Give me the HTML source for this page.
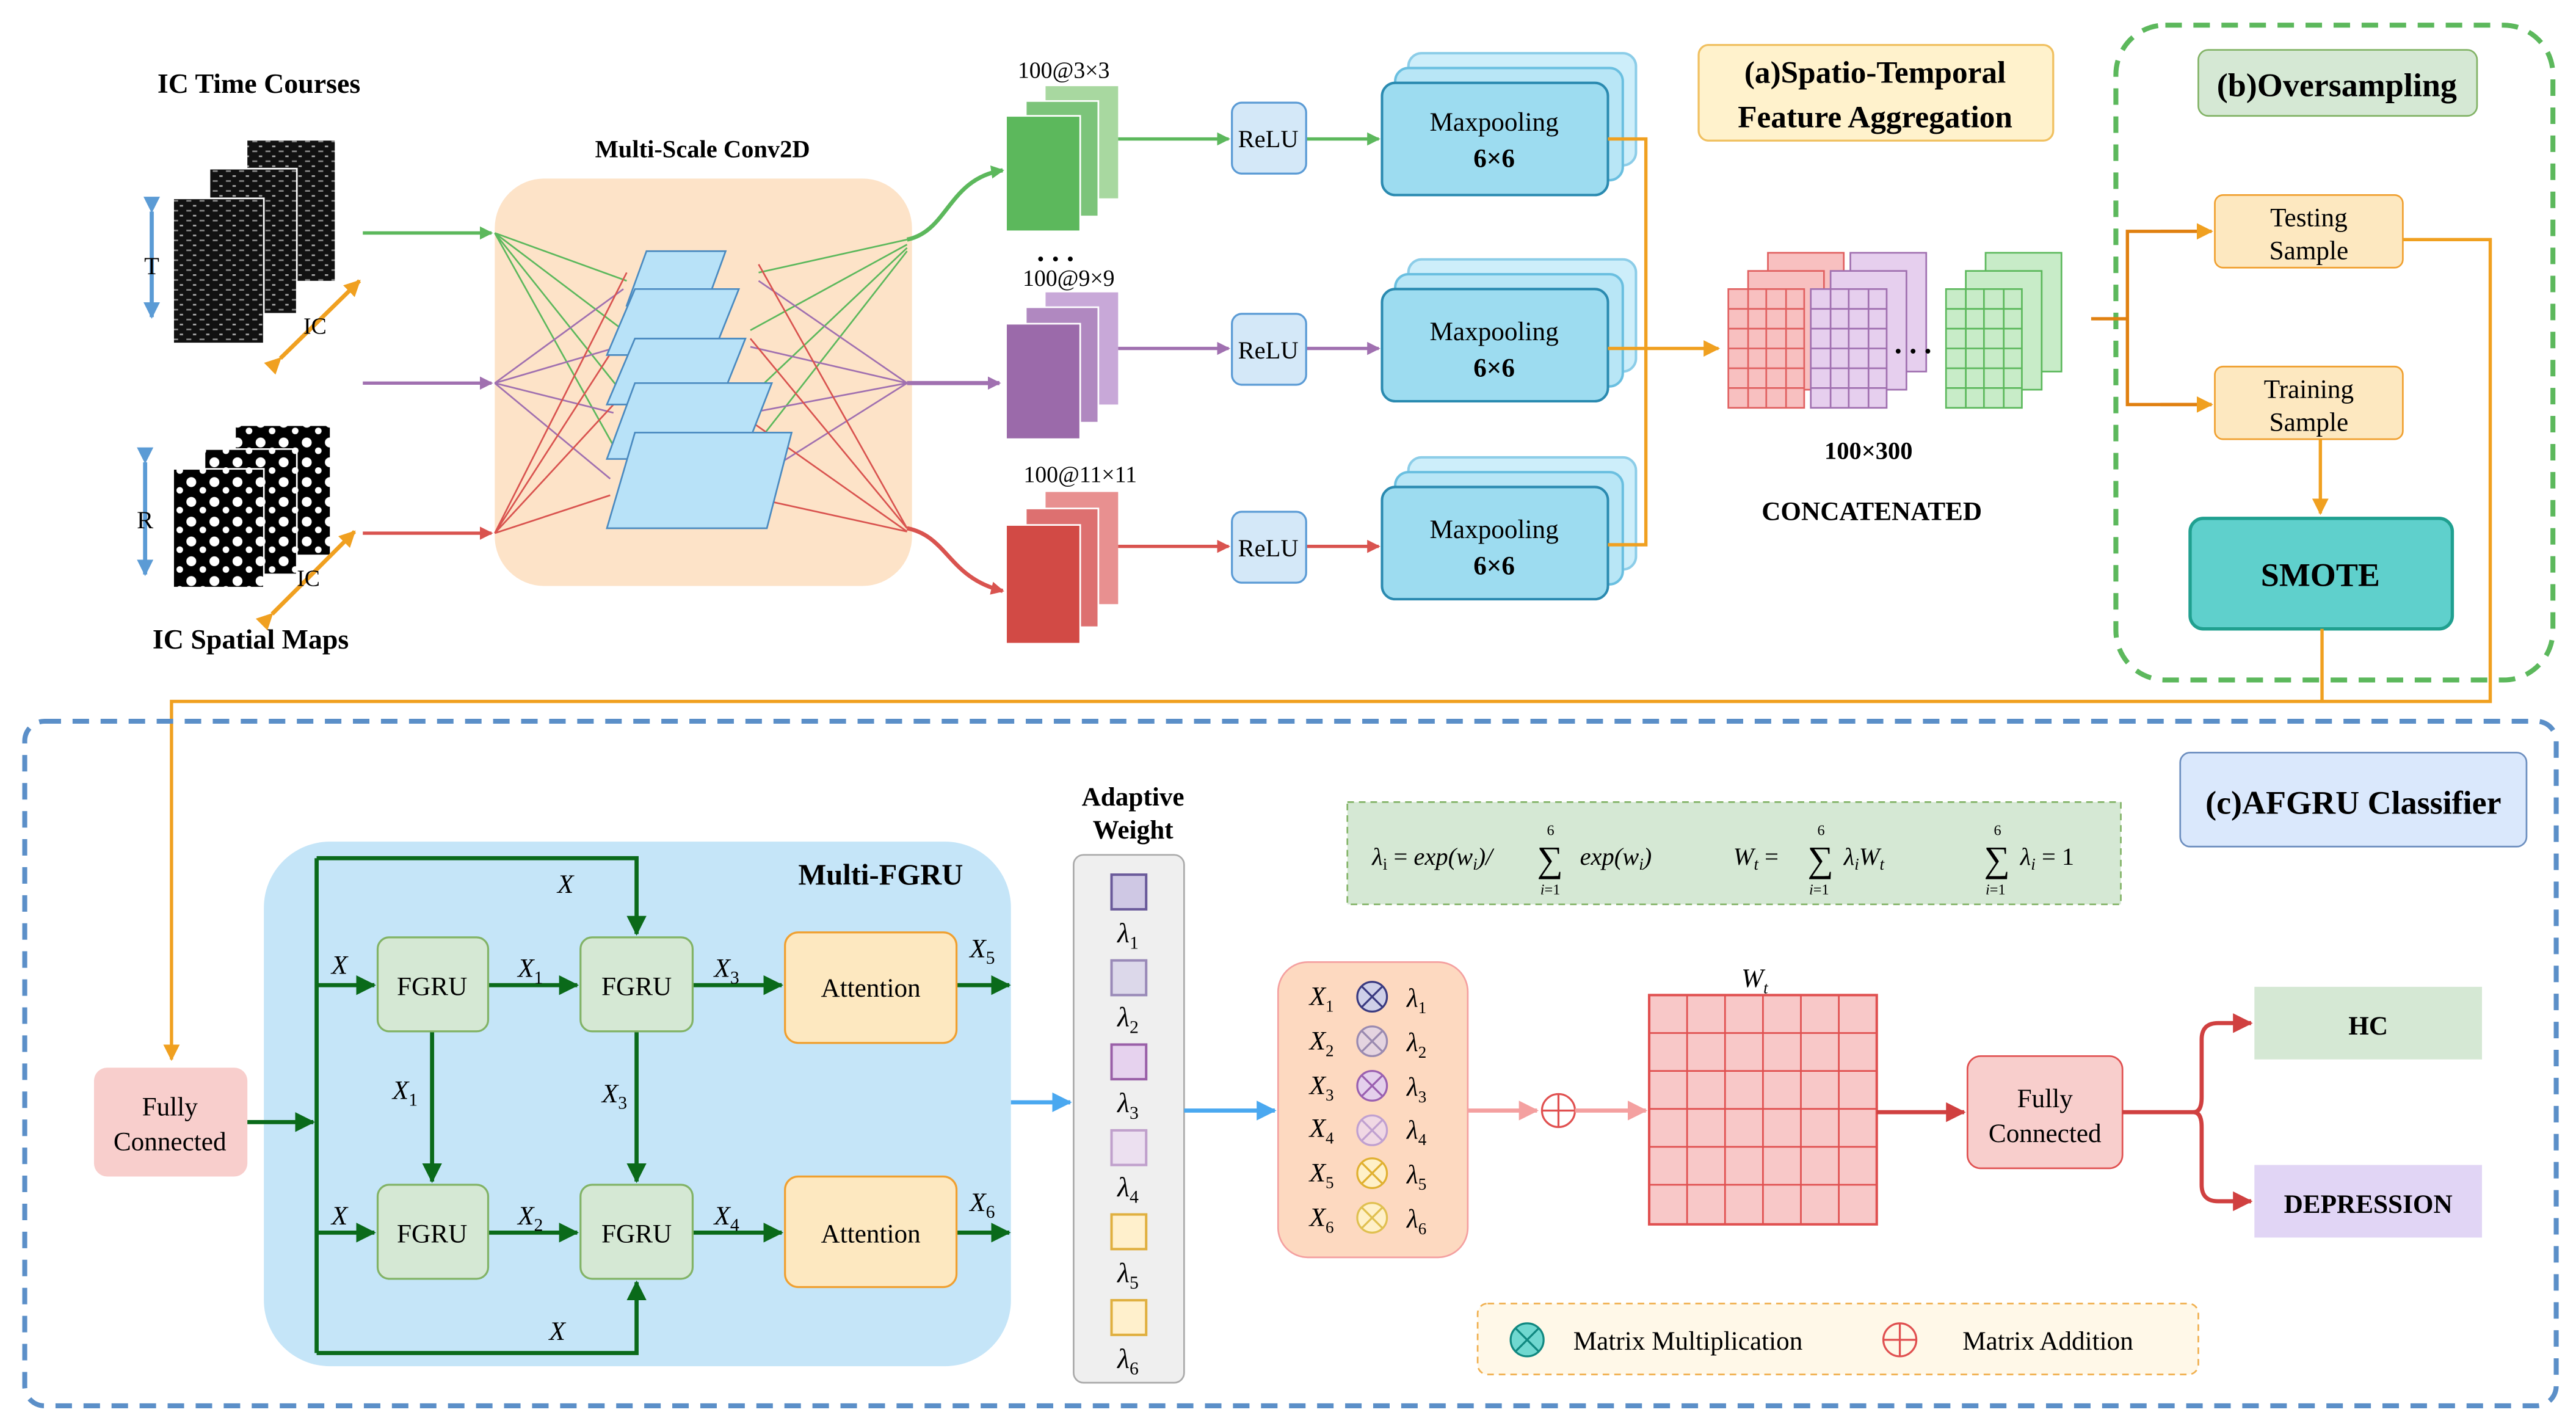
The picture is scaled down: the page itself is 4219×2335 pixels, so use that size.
<!DOCTYPE html>
<html><head><meta charset="utf-8"><style>
html,body{margin:0;padding:0;background:#fff;}
svg{display:block;font-family:"Liberation Serif",serif;}
svg text{font-family:"Liberation Serif",serif;}
</style></head><body>
<svg width="4219" height="2335" viewBox="0 0 1562 864" xmlns="http://www.w3.org/2000/svg" font-family="Liberation Serif, serif">
<defs>
<marker id="ag" markerWidth="8" markerHeight="8" refX="7" refY="4" orient="auto" markerUnits="userSpaceOnUse"><path d="M0,0 L8,4 L0,8z" fill="#5cb85c"/></marker>
<marker id="ap" markerWidth="8" markerHeight="8" refX="7" refY="4" orient="auto" markerUnits="userSpaceOnUse"><path d="M0,0 L8,4 L0,8z" fill="#a070b0"/></marker>
<marker id="ar" markerWidth="8" markerHeight="8" refX="7" refY="4" orient="auto" markerUnits="userSpaceOnUse"><path d="M0,0 L8,4 L0,8z" fill="#d9534f"/></marker>
<marker id="ao" markerWidth="10" markerHeight="10" refX="9" refY="5" orient="auto" markerUnits="userSpaceOnUse"><path d="M0,0 L10,5 L0,10z" fill="#f0a020"/></marker>
<marker id="ab" markerWidth="10" markerHeight="10" refX="9" refY="5" orient="auto" markerUnits="userSpaceOnUse"><path d="M0,0 L10,5 L0,10z" fill="#5b9bd5"/></marker>
<marker id="alb" markerWidth="12" markerHeight="12" refX="11" refY="6" orient="auto" markerUnits="userSpaceOnUse"><path d="M0,0 L12,6 L0,12z" fill="#4aa8f0"/></marker>
<marker id="adg" markerWidth="12" markerHeight="12" refX="11" refY="6" orient="auto" markerUnits="userSpaceOnUse"><path d="M0,0 L12,6 L0,12z" fill="#0a6a1a"/></marker>
<marker id="apk" markerWidth="12" markerHeight="12" refX="11" refY="6" orient="auto" markerUnits="userSpaceOnUse"><path d="M0,0 L12,6 L0,12z" fill="#f4a0a0"/></marker>
<marker id="ard" markerWidth="12" markerHeight="12" refX="11" refY="6" orient="auto" markerUnits="userSpaceOnUse"><path d="M0,0 L12,6 L0,12z" fill="#d04040"/></marker>
<pattern id="noise" width="8" height="6" patternUnits="userSpaceOnUse"><rect width="8" height="6" fill="#111"/><rect x="1" y="1" width="3" height="1" fill="#888"/><rect x="5" y="4" width="2" height="1" fill="#aaa"/></pattern>
<pattern id="blob" width="14" height="12" patternUnits="userSpaceOnUse"><rect width="14" height="12" fill="#000"/><circle cx="4" cy="4" r="3" fill="#fff"/><circle cx="11" cy="9" r="2" fill="#fff"/></pattern>
</defs>

<text x="157" y="56" font-size="17" font-weight="bold" text-anchor="middle">IC Time Courses</text>
<rect x="150" y="85" width="53" height="85" fill="url(#noise)"/>
<rect x="127" y="102" width="53" height="88" fill="url(#noise)" stroke="#fff"/>
<rect x="105" y="120" width="55" height="88" fill="url(#noise)" stroke="#fff"/>
<line x1="92" y1="128" x2="92" y2="192" stroke="#5b9bd5" stroke-width="2.5" marker-start="url(#ab)" marker-end="url(#ab)"/>
<text x="92" y="166" font-size="15" text-anchor="middle">T</text>
<line x1="170" y1="217" x2="218" y2="170" stroke="#f0a020" stroke-width="2.5" marker-start="url(#ao)" marker-end="url(#ao)"/>
<text x="191" y="202" font-size="14" text-anchor="middle">IC</text>
<rect x="143" y="258" width="57" height="78" fill="url(#blob)"/>
<rect x="124" y="272" width="56" height="76" fill="url(#blob)" stroke="#fff"/>
<rect x="105" y="284" width="55" height="72" fill="url(#blob)" stroke="#fff"/>
<line x1="88" y1="280" x2="88" y2="348" stroke="#5b9bd5" stroke-width="2.5" marker-start="url(#ab)" marker-end="url(#ab)"/>
<text x="88" y="320" font-size="15" text-anchor="middle">R</text>
<line x1="165" y1="372" x2="215" y2="322" stroke="#f0a020" stroke-width="2.5" marker-start="url(#ao)" marker-end="url(#ao)"/>
<text x="187" y="355" font-size="14" text-anchor="middle">IC</text>
<text x="152" y="393" font-size="17" font-weight="bold" text-anchor="middle">IC Spatial Maps</text>

<text x="426" y="95" font-size="15" font-weight="bold" text-anchor="middle">Multi-Scale Conv2D</text>
<rect x="300" y="108" width="253" height="247" rx="30" fill="#fde3c8"/>
<line x1="220" y1="141" x2="298" y2="141" stroke="#5cb85c" stroke-width="2" marker-end="url(#ag)"/>
<line x1="220" y1="232" x2="298" y2="232" stroke="#a070b0" stroke-width="2" marker-end="url(#ap)"/>
<line x1="220" y1="323" x2="298" y2="323" stroke="#d9534f" stroke-width="2" marker-end="url(#ar)"/>
<g stroke-width="1">
<g stroke="#5cb85c"><path d="M300 141 L380 170 M300 141 L378 200 M300 141 L375 235 M300 141 L372 270 M460 165 L550 145 M455 200 L550 148 M455 240 L550 150 M450 280 L550 152"/></g>
<g stroke="#a070b0"><path d="M300 232 L378 175 M300 232 L375 210 M300 232 L372 250 M300 232 L370 290 M460 170 L550 232 M455 210 L550 232 M455 250 L550 232 M450 295 L550 232"/></g>
<g stroke="#d9534f"><path d="M300 323 L380 165 M300 323 L376 205 M300 323 L372 245 M300 323 L370 300 M460 160 L550 320 M455 205 L550 320 M455 255 L550 322 M450 300 L550 322"/></g>
</g>
<g fill="#b8e2f8" stroke="#4a8ac0" stroke-width="1">
<polygon points="392,152 440,152 428,185 380,185"/>
<polygon points="385,175 448,175 432,215 368,215"/>
<polygon points="385,205 452,205 436,245 368,245"/>
<polygon points="385,232 468,232 450,278 368,278"/>
<polygon points="385,262 480,262 465,320 368,320"/>
</g>
<path d="M550 145 C575 140 575 108 608 103" stroke="#5cb85c" stroke-width="2.5" fill="none" marker-end="url(#ag)"/>
<line x1="550" y1="232" x2="606" y2="232" stroke="#a070b0" stroke-width="2.5" marker-end="url(#ap)"/>
<path d="M550 320 C575 325 575 350 608 358" stroke="#d9534f" stroke-width="2.5" fill="none" marker-end="url(#ar)"/>

<text x="645" y="47" font-size="14" text-anchor="middle">100@3×3</text>
<rect x="634" y="52" width="44" height="68" fill="#a8d8a0"/><rect x="622" y="61" width="44" height="70" fill="#7cc47a" stroke="#fff"/><rect x="610" y="70" width="45" height="70" fill="#5cb85c" stroke="#fff"/>
<text x="640" y="158" font-size="18" font-weight="bold" text-anchor="middle">. . .</text>
<text x="648" y="173" font-size="14" text-anchor="middle">100@9×9</text>
<rect x="634" y="177" width="44" height="68" fill="#c8a8d8"/><rect x="622" y="186" width="44" height="70" fill="#b088c0" stroke="#fff"/><rect x="610" y="196" width="45" height="70" fill="#9b6aaa" stroke="#fff"/>
<text x="655" y="292" font-size="14" text-anchor="middle">100@11×11</text>
<rect x="634" y="298" width="44" height="68" fill="#e89090"/><rect x="622" y="308" width="44" height="72" fill="#dd7070" stroke="#fff"/><rect x="610" y="318" width="45" height="72" fill="#d24a45" stroke="#fff"/>
<g stroke-width="2">
<line x1="678" y1="84" x2="745" y2="84" stroke="#5cb85c" marker-end="url(#ag)"/>
<line x1="678" y1="211" x2="745" y2="211" stroke="#a070b0" marker-end="url(#ap)"/>
<line x1="678" y1="331" x2="745" y2="331" stroke="#d9534f" marker-end="url(#ar)"/>
<line x1="792" y1="84" x2="836" y2="84" stroke="#5cb85c" marker-end="url(#ag)"/>
<line x1="792" y1="211" x2="836" y2="211" stroke="#a070b0" marker-end="url(#ap)"/>
<line x1="792" y1="331" x2="836" y2="331" stroke="#d9534f" marker-end="url(#ar)"/>
</g>
<g fill="#d4e8f8" stroke="#5b9bd5" stroke-width="1.2">
<rect x="747" y="62" width="45" height="43" rx="6"/><rect x="747" y="190" width="45" height="43" rx="6"/><rect x="747" y="310" width="45" height="43" rx="6"/>
</g>
<text x="769" y="89" font-size="15" text-anchor="middle">ReLU</text>
<text x="769" y="217" font-size="15" text-anchor="middle">ReLU</text>
<text x="769" y="337" font-size="15" text-anchor="middle">ReLU</text>
<g stroke="#2a8ab0" stroke-width="1.5">
<g><rect x="854" y="32" width="138" height="68" rx="8" fill="#cdeefa" stroke="#8ccde8"/><rect x="846" y="41" width="138" height="68" rx="8" fill="#b8e6f6" stroke="#6abfe0"/><rect x="838" y="50" width="137" height="68" rx="8" fill="#9ddcf0"/></g>
<g><rect x="854" y="157" width="138" height="68" rx="8" fill="#cdeefa" stroke="#8ccde8"/><rect x="846" y="166" width="138" height="68" rx="8" fill="#b8e6f6" stroke="#6abfe0"/><rect x="838" y="175" width="137" height="68" rx="8" fill="#9ddcf0"/></g>
<g><rect x="854" y="277" width="138" height="68" rx="8" fill="#cdeefa" stroke="#8ccde8"/><rect x="846" y="286" width="138" height="68" rx="8" fill="#b8e6f6" stroke="#6abfe0"/><rect x="838" y="295" width="137" height="68" rx="8" fill="#9ddcf0"/></g>
</g>
<g font-size="16" text-anchor="middle">
<text x="906" y="79">Maxpooling</text><text x="906" y="101" font-weight="bold">6×6</text>
<text x="906" y="206">Maxpooling</text><text x="906" y="228" font-weight="bold">6×6</text>
<text x="906" y="326">Maxpooling</text><text x="906" y="348" font-weight="bold">6×6</text>
</g>
<path d="M975 84 L998 84 L998 330 L975 330 M975 211 L1042 211" stroke="#f0a020" stroke-width="2" fill="none" marker-end="url(#ao)"/>

<g stroke-width="1">
<g fill="#f8c0c0" stroke="#e06060"><rect x="1072" y="153" width="46" height="72"/><rect x="1060" y="164" width="46" height="72"/><rect x="1048" y="175" width="46" height="72"/></g>
<g fill="#e6cfee" stroke="#a070b0"><rect x="1122" y="153" width="46" height="72"/><rect x="1110" y="164" width="46" height="72"/><rect x="1098" y="175" width="46" height="72"/></g>
<g fill="#c8ecc8" stroke="#5cb85c"><rect x="1204" y="153" width="46" height="72"/><rect x="1192" y="164" width="46" height="72"/><rect x="1180" y="175" width="46" height="72"/></g>
<g stroke="#e06060"><path d="M1048 187h46M1048 199h46M1048 211h46M1048 223h46M1048 235h46M1060 175v72M1071 175v72M1083 175v72"/></g>
<g stroke="#a070b0"><path d="M1098 187h46M1098 199h46M1098 211h46M1098 223h46M1098 235h46M1110 175v72M1121 175v72M1133 175v72"/></g>
<g stroke="#5cb85c"><path d="M1180 187h46M1180 199h46M1180 211h46M1180 223h46M1180 235h46M1192 175v72M1203 175v72M1215 175v72"/></g>
</g>
<text x="1160" y="214" font-size="18" font-weight="bold" text-anchor="middle">. . .</text>
<text x="1133" y="278" font-size="15" font-weight="bold" text-anchor="middle">100×300</text>
<text x="1135" y="315" font-size="16" font-weight="bold" text-anchor="middle">CONCATENATED</text>

<rect x="1030" y="27" width="215" height="58" rx="6" fill="#fff2cc" stroke="#f0c060" stroke-width="1.2"/>
<text x="1137" y="50" font-size="19" font-weight="bold" text-anchor="middle">(a)Spatio-Temporal</text>
<text x="1137" y="77" font-size="19" font-weight="bold" text-anchor="middle">Feature Aggregation</text>

<rect x="1283" y="15" width="265" height="397" rx="30" fill="none" stroke="#5cb85c" stroke-width="3" stroke-dasharray="10,7"/>
<rect x="1333" y="30" width="169" height="40" rx="6" fill="#d5e8d4" stroke="#82b366"/>
<text x="1417" y="58" font-size="20" font-weight="bold" text-anchor="middle">(b)Oversampling</text>
<path d="M1268 193 L1290 193 M1290 193 L1290 140 L1341 140 M1290 193 L1290 245 L1341 245" stroke="#e08010" stroke-width="2" fill="none"/>
<line x1="1310" y1="140" x2="1341" y2="140" stroke="#e08010" stroke-width="2" marker-end="url(#ao)"/>
<line x1="1310" y1="245" x2="1341" y2="245" stroke="#e08010" stroke-width="2" marker-end="url(#ao)"/>
<rect x="1343" y="118" width="114" height="44" rx="5" fill="#fde8c0" stroke="#f0a030"/>
<text x="1400" y="137" font-size="16" text-anchor="middle">Testing</text><text x="1400" y="157" font-size="16" text-anchor="middle">Sample</text>
<rect x="1343" y="222" width="114" height="44" rx="5" fill="#fde8c0" stroke="#f0a030"/>
<text x="1400" y="241" font-size="16" text-anchor="middle">Training</text><text x="1400" y="261" font-size="16" text-anchor="middle">Sample</text>
<line x1="1407" y1="266" x2="1407" y2="311" stroke="#f0a020" stroke-width="2" marker-end="url(#ao)"/>
<rect x="1328" y="314" width="159" height="67" rx="8" fill="#5fd0cc" stroke="#20a090" stroke-width="2"/>
<text x="1407" y="355" font-size="20" font-weight="bold" text-anchor="middle">SMOTE</text>
<path d="M1457 145 L1510 145 L1510 425 L104 425 L104 642" stroke="#f0a020" stroke-width="2" fill="none" marker-end="url(#ao)"/>
<line x1="1408" y1="381" x2="1408" y2="425" stroke="#f0a020" stroke-width="2"/>

<rect x="15" y="437" width="1535" height="415" rx="12" fill="none" stroke="#5b8fc8" stroke-width="3" stroke-dasharray="10,7"/>
<rect x="1322" y="456" width="210" height="57" rx="6" fill="#dae8fc" stroke="#6c8ebf"/>
<text x="1427" y="493" font-size="20" font-weight="bold" text-anchor="middle">(c)AFGRU Classifier</text>

<rect x="57" y="647" width="93" height="66" rx="8" fill="#f8cecc"/>
<text x="103" y="676" font-size="16" text-anchor="middle">Fully</text><text x="103" y="697" font-size="16" text-anchor="middle">Connected</text>

<rect x="160" y="510" width="453" height="318" rx="40" fill="#c5e5f8"/>
<text x="534" y="536" font-size="18" font-weight="bold" text-anchor="middle">Multi-FGRU</text>
<g stroke="#0a6a1a" stroke-width="2.5" fill="none">
<line x1="150" y1="680" x2="190" y2="680" marker-end="url(#adg)"/>
<path d="M192 520 L192 820"/>
<path d="M192 520 L386 520 L386 566" marker-end="url(#adg)"/>
<path d="M192 820 L386 820 L386 777" marker-end="url(#adg)"/>
<line x1="192" y1="597" x2="227" y2="597" marker-end="url(#adg)"/>
<line x1="192" y1="747" x2="227" y2="747" marker-end="url(#adg)"/>
<line x1="296" y1="597" x2="350" y2="597" marker-end="url(#adg)"/>
<line x1="296" y1="747" x2="350" y2="747" marker-end="url(#adg)"/>
<line x1="420" y1="597" x2="474" y2="597" marker-end="url(#adg)"/>
<line x1="420" y1="747" x2="474" y2="747" marker-end="url(#adg)"/>
<line x1="262" y1="625" x2="262" y2="716" marker-end="url(#adg)"/>
<line x1="386" y1="625" x2="386" y2="716" marker-end="url(#adg)"/>
<line x1="580" y1="597" x2="612" y2="597" marker-end="url(#adg)"/>
<line x1="580" y1="747" x2="612" y2="747" marker-end="url(#adg)"/>
</g>
<g fill="#d5e8d4" stroke="#82b366" stroke-width="1.2">
<rect x="229" y="568" width="67" height="57" rx="7"/><rect x="352" y="568" width="68" height="57" rx="7"/>
<rect x="229" y="718" width="67" height="57" rx="7"/><rect x="352" y="718" width="68" height="57" rx="7"/>
</g>
<g font-size="16" text-anchor="middle"><text x="262" y="603">FGRU</text><text x="386" y="603">FGRU</text><text x="262" y="753">FGRU</text><text x="386" y="753">FGRU</text></g>
<g fill="#fde8c0" stroke="#f0a030" stroke-width="1.2"><rect x="476" y="565" width="104" height="67" rx="8"/><rect x="476" y="713" width="104" height="67" rx="8"/></g>
<text x="528" y="604" font-size="16" text-anchor="middle">Attention</text><text x="528" y="753" font-size="16" text-anchor="middle">Attention</text>
<g font-size="16" font-style="italic">
<text x="338" y="541">X</text><text x="201" y="590">X</text><text x="201" y="742">X</text><text x="333" y="812">X</text>
<text x="314" y="592">X<tspan font-size="11" dy="4" font-style="normal">1</tspan></text>
<text x="433" y="592">X<tspan font-size="11" dy="4" font-style="normal">3</tspan></text>
<text x="314" y="742">X<tspan font-size="11" dy="4" font-style="normal">2</tspan></text>
<text x="433" y="742">X<tspan font-size="11" dy="4" font-style="normal">4</tspan></text>
<text x="238" y="666">X<tspan font-size="11" dy="4" font-style="normal">1</tspan></text>
<text x="365" y="668">X<tspan font-size="11" dy="4" font-style="normal">3</tspan></text>
<text x="588" y="580">X<tspan font-size="11" dy="4" font-style="normal">5</tspan></text>
<text x="588" y="734">X<tspan font-size="11" dy="4" font-style="normal">6</tspan></text>
</g>
<line x1="613" y1="668" x2="649" y2="668" stroke="#4aa8f0" stroke-width="2.5" marker-end="url(#alb)"/>

<text x="687" y="488" font-size="16" font-weight="bold" text-anchor="middle">Adaptive</text>
<text x="687" y="508" font-size="16" font-weight="bold" text-anchor="middle">Weight</text>
<rect x="651" y="518" width="67" height="320" rx="6" fill="#efefef" stroke="#aaa"/>
<g stroke-width="1.5">
<rect x="674" y="530" width="21" height="21" fill="#cfc8e4" stroke="#6a5a9a"/>
<rect x="674" y="582" width="21" height="21" fill="#dcd8ea" stroke="#9a8ab8"/>
<rect x="674" y="633" width="21" height="21" fill="#e6d2ee" stroke="#9a60a8"/>
<rect x="674" y="685" width="21" height="21" fill="#ece0f0" stroke="#c0a0cc"/>
<rect x="674" y="736" width="21" height="21" fill="#fff0cc" stroke="#e0b040"/>
<rect x="674" y="788" width="21" height="21" fill="#fff0cc" stroke="#e0b040"/>
</g>
<g font-size="17" font-style="italic" text-anchor="middle">
<text x="684" y="571">λ<tspan font-size="11" dy="4" font-style="normal">1</tspan></text>
<text x="684" y="622">λ<tspan font-size="11" dy="4" font-style="normal">2</tspan></text>
<text x="684" y="674">λ<tspan font-size="11" dy="4" font-style="normal">3</tspan></text>
<text x="684" y="725">λ<tspan font-size="11" dy="4" font-style="normal">4</tspan></text>
<text x="684" y="777">λ<tspan font-size="11" dy="4" font-style="normal">5</tspan></text>
<text x="684" y="829">λ<tspan font-size="11" dy="4" font-style="normal">6</tspan></text>
</g>
<line x1="718" y1="673" x2="773" y2="673" stroke="#4aa8f0" stroke-width="2.5" marker-end="url(#alb)"/>

<rect x="817" y="486" width="469" height="62" fill="#d5e8d4" stroke="#82b366" stroke-dasharray="4,3"/>
<g font-size="15" font-style="italic">
<text x="832" y="524">λ<tspan font-size="10" dy="3" font-style="normal">i</tspan><tspan dy="-3" font-style="normal"> = </tspan>exp(w<tspan font-size="10" dy="3">i</tspan><tspan dy="-3">)/</tspan></text>
<text x="932" y="528" font-size="22" font-style="normal">∑</text>
<text x="938" y="506" font-size="9" font-style="normal">6</text><text x="934" y="542" font-size="9">i<tspan font-style="normal">=1</tspan></text>
<text x="958" y="524">exp(w<tspan font-size="10" dy="3">i</tspan><tspan dy="-3">)</tspan></text>
<text x="1051" y="524">W<tspan font-size="10" dy="3">t</tspan><tspan dy="-3" font-style="normal"> = </tspan></text>
<text x="1096" y="528" font-size="22" font-style="normal">∑</text>
<text x="1102" y="506" font-size="9" font-style="normal">6</text><text x="1097" y="542" font-size="9">i<tspan font-style="normal">=1</tspan></text>
<text x="1118" y="524">λ<tspan font-size="10" dy="3">i</tspan><tspan dy="-3">W</tspan><tspan font-size="10" dy="3">t</tspan></text>
<text x="1203" y="528" font-size="22" font-style="normal">∑</text>
<text x="1209" y="506" font-size="9" font-style="normal">6</text><text x="1204" y="542" font-size="9">i<tspan font-style="normal">=1</tspan></text>
<text x="1225" y="524">λ<tspan font-size="10" dy="3">i</tspan><tspan dy="-3" font-style="normal"> = 1</tspan></text>
</g>

<rect x="775" y="583" width="115" height="179" rx="18" fill="#fdd9c0" stroke="#f4a0a0"/>
<g font-size="16" font-style="italic">
<text x="794" y="609">X<tspan font-size="10" dy="4" font-style="normal">1</tspan></text>
<text x="794" y="636">X<tspan font-size="10" dy="4" font-style="normal">2</tspan></text>
<text x="794" y="663">X<tspan font-size="10" dy="4" font-style="normal">3</tspan></text>
<text x="794" y="689">X<tspan font-size="10" dy="4" font-style="normal">4</tspan></text>
<text x="794" y="716">X<tspan font-size="10" dy="4" font-style="normal">5</tspan></text>
<text x="794" y="743">X<tspan font-size="10" dy="4" font-style="normal">6</tspan></text>
<text x="853" y="610">λ<tspan font-size="10" dy="4" font-style="normal">1</tspan></text>
<text x="853" y="637">λ<tspan font-size="10" dy="4" font-style="normal">2</tspan></text>
<text x="853" y="664">λ<tspan font-size="10" dy="4" font-style="normal">3</tspan></text>
<text x="853" y="690">λ<tspan font-size="10" dy="4" font-style="normal">4</tspan></text>
<text x="853" y="717">λ<tspan font-size="10" dy="4" font-style="normal">5</tspan></text>
<text x="853" y="744">λ<tspan font-size="10" dy="4" font-style="normal">6</tspan></text>
</g>
<g stroke-width="1.2">
<g transform="translate(832,604)"><circle r="9" fill="#cfd0e8" stroke="#3a3a80"/><path d="M-6-6L6 6M6-6L-6 6" stroke="#3a3a80"/></g>
<g transform="translate(832,631)"><circle r="9" fill="#e4d4e0" stroke="#9a8ab0"/><path d="M-6-6L6 6M6-6L-6 6" stroke="#9a8ab0"/></g>
<g transform="translate(832,658)"><circle r="9" fill="#e4d0ec" stroke="#9a60b0"/><path d="M-6-6L6 6M6-6L-6 6" stroke="#9a60b0"/></g>
<g transform="translate(832,685)"><circle r="9" fill="#f0d8e4" stroke="#c0a0d0"/><path d="M-6-6L6 6M6-6L-6 6" stroke="#c0a0d0"/></g>
<g transform="translate(832,711)"><circle r="9" fill="#fff0c8" stroke="#e0b030"/><path d="M-6-6L6 6M6-6L-6 6" stroke="#e0b030"/></g>
<g transform="translate(832,738)"><circle r="9" fill="#fff0c8" stroke="#e0c050"/><path d="M-6-6L6 6M6-6L-6 6" stroke="#e0c050"/></g>
</g>
<line x1="890" y1="673" x2="932" y2="673" stroke="#f4a0a0" stroke-width="2.5" marker-end="url(#apk)"/>
<g transform="translate(945,673)"><circle r="10" fill="none" stroke="#e05050" stroke-width="1.2"/><path d="M-10 0H10M0-10V10" stroke="#e05050" stroke-width="1.2"/></g>
<line x1="955" y1="673" x2="998" y2="673" stroke="#f4a0a0" stroke-width="2.5" marker-end="url(#apk)"/>

<text x="1064" y="598" font-size="16" font-style="italic" text-anchor="middle">W<tspan font-size="10" dy="4">t</tspan></text>
<rect x="1000" y="603" width="138" height="139" fill="#f8c8c8" stroke="#e05050" stroke-width="1.5"/>
<g stroke="#e05050" stroke-width="1">
<path d="M1023 603V742M1046 603V742M1069 603V742M1092 603V742M1115 603V742M1000 626H1138M1000 649H1138M1000 672H1138M1000 695H1138M1000 718H1138"/>
</g>
<line x1="1138" y1="674" x2="1191" y2="674" stroke="#d04040" stroke-width="2.5" marker-end="url(#ard)"/>
<rect x="1193" y="640" width="94" height="68" rx="8" fill="#f8cecc" stroke="#e05050"/>
<text x="1240" y="671" font-size="16" text-anchor="middle">Fully</text><text x="1240" y="692" font-size="16" text-anchor="middle">Connected</text>
<path d="M1287 674 L1330 674 Q1335 674 1335 665 L1335 630 Q1335 620 1345 620 L1365 620" stroke="#d04040" stroke-width="2.5" fill="none" marker-end="url(#ard)"/>
<path d="M1330 674 Q1335 674 1335 683 L1335 718 Q1335 728 1345 728 L1365 728" stroke="#d04040" stroke-width="2.5" fill="none" marker-end="url(#ard)"/>
<rect x="1367" y="598" width="138" height="44" fill="#d5e8d4"/>
<text x="1436" y="627" font-size="16" font-weight="bold" text-anchor="middle">HC</text>
<rect x="1367" y="706" width="138" height="44" fill="#e1d5f5"/>
<text x="1436" y="735" font-size="16" font-weight="bold" text-anchor="middle">DEPRESSION</text>

<rect x="896" y="790" width="437" height="43" rx="6" fill="#fff8e8" stroke="#f0b050" stroke-dasharray="4,3"/>
<g transform="translate(926,812)"><circle r="10" fill="#70d8d0" stroke="#108880" stroke-width="1.2"/><path d="M-7-7L7 7M7-7L-7 7" stroke="#108880" stroke-width="1.2"/></g>
<text x="954" y="818" font-size="16">Matrix Multiplication</text>
<g transform="translate(1152,812)"><circle r="10" fill="none" stroke="#e05050" stroke-width="1.2"/><path d="M-10 0H10M0-10V10" stroke="#e05050" stroke-width="1.2"/></g>
<text x="1190" y="818" font-size="16">Matrix Addition</text>
</svg>
</body></html>
